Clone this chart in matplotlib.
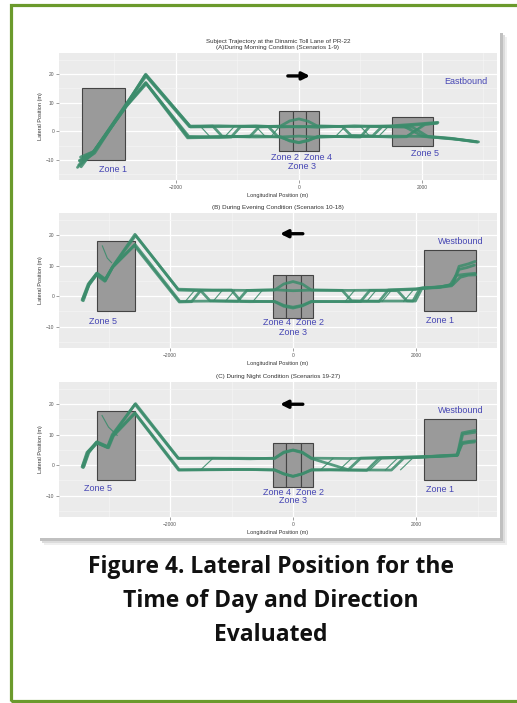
import matplotlib
matplotlib.use("Agg")
import matplotlib.pyplot as plt
from matplotlib.patches import Rectangle
from matplotlib.ticker import MultipleLocator

W, H = 517, 703

# ---- data ----
x_ticks = [-2000, 0, 2000]
y_ticks = [-10, 0, 10, 20]

titles = ["Subject Trajectory at the Dinamic Toll Lane of PR-22\n(A)During Morning Condition (Scenarios 1-9)",
          "(B) During Evening Condition (Scenarios 10-18)",
          "(C) During Night Condition (Scenarios 19-27)"]
directions = ["Eastbound", "Westbound", "Westbound"]

# zone boxes: x0, x1, y0, y1
morning_boxes = [(-3530, -2830, -10, 15), (-320, -100, -7, 7), (-100, 110, -7, 7),
                 (110, 330, -7, 7), (1510, 2180, -5, 5)]
evening_boxes = [(-3190, -2570, -5, 18), (-325, -114, -7, 7), (-114, 130, -7, 7),
                 (130, 325, -7, 7), (2130, 2975, -5, 15)]
night_boxes = [(-3190, -2570, -4.8, 17.8), (-325, -114, -7.3, 7.3), (-114, 130, -7.3, 7.3),
               (130, 325, -7.3, 7.3), (2130, 2975, -5, 15)]

# zone labels: text, x, y
morning_labels = [("Zone 1", -3020, -13.4), ("Zone 2  Zone 4", 50, -9.0), ("Zone 3", 50, -12.4),
                  ("Zone 5", 2050, -7.9)]
evening_labels = [("Zone 5", -3090, -8.3), ("Zone 4  Zone 2", 0, -8.6), ("Zone 3", 0, -11.9),
                  ("Zone 1", 2390, -7.9)]
night_labels = [("Zone 5", -3170, -7.8), ("Zone 4  Zone 2", 0, -8.8), ("Zone 3", 0, -11.7),
                ("Zone 1", 2390, -8.1)]

# trajectories (longitudinal x, lateral y)
morning_paths = [
    ([-3580, -3470, -3350, -2800, -2490, -1770, -1300, -700, -300, -150, 0, 150, 300, 900, 1500, 1900, 2260],
     [-11.8, -9.5, -7.6, 9.4, 19.9, 1.8, 1.9, 1.6, 1.8, 3.6, 4.3, 3.5, 1.8, 1.6, 1.9, 2.5, 3.1]),
    ([-3560, -3450, -3340, -2800, -2480, -1760, -1300, -700, -300, 0, 300, 900, 1500, 1900, 2250],
     [-10.5, -8.4, -7.2, 9.8, 19.4, 1.5, 1.6, 1.9, 1.5, 1.7, 1.4, 1.9, 1.6, 2.2, 2.8]),
    ([-3570, -3460, -3350, -2800, -2490, -1800, -1300, -700, -300, -150, 0, 150, 300, 900, 1500, 2000, 2500, 2900],
     [-10.2, -8.8, -7.4, 9.1, 17.0, -2.1, -1.8, -2.0, -1.9, -3.4, -4.0, -3.3, -1.8, -1.9, -1.7, -1.8, -2.6, -3.8]),
    ([-3550, -3440, -3330, -2800, -2480, -1790, -1300, -700, -300, 0, 300, 900, 1500, 1750, 2050, 2240],
     [-9.0, -8.0, -7.0, 8.8, 16.6, -1.8, -2.1, -1.6, -2.0, -1.7, -2.1, -1.6, -2.0, -1.9, 2.4, 2.9]),
    ([-3540, -3430, -3320, -2800, -2500, -1780, -1400, -1250, -800, -650, -300, 0, 300, 700, 850, 1200, 1350, 1700, 2000, 2450, 2880],
     [-12.4, -9.2, -7.6, 9.6, 19.6, 1.6, 1.8, -1.7, -1.9, 1.5, 1.7, 1.5, 1.8, 1.7, -1.5, -1.6, 1.6, 1.8, -1.6, -2.4, -3.6]),
    ([-3600, -3500, -3360, -2800, -2490, -1810, -1100, -950, -500, -350, -150, 0, 150, 350, 1000, 1150, 1600, 1850, 2100, 2600, 2920],
     [-12.6, -10.6, -8.0, 9.0, 16.8, -2.3, -2.0, 1.6, 1.7, -1.7, -3.2, -3.9, -3.1, -1.7, -2.0, 1.7, 1.5, 1.4, -1.9, -2.9, -3.7]),
]
morning_thin = [([-1600, -1450], [1.7, -1.8]), ([-1200, -1050], [-1.8, 1.7]), ([-700, -550], [1.7, -1.8]),
                ([-450, -320], [-1.8, 1.6]), ([600, 750], [-1.7, 1.6]), ([1000, 1150], [1.7, -1.7]),
                ([1300, 1450], [-1.7, 1.6]), ([1750, 2000], [-1.6, 1.8])]

evening_paths = [
    ([-3430, -3330, -3190, -3060, -2930, -2570, -1870, -1300, -700, -300, -150, 0, 150, 300, 900, 1500, 2065, 2400, 2600, 2700, 2850, 2960],
     [-1.3, 4.0, 7.5, 5.3, 9.8, 20.3, 2.3, 2.0, 1.9, 2.0, 4.0, 4.8, 4.0, 2.0, 1.9, 2.0, 2.5, 3.0, 4.0, 9.8, 10.6, 11.4]),
    ([-3420, -3320, -3180, -3050, -2930, -2570, -1840, -1300, -700, -300, -150, 0, 150, 300, 900, 1500, 1950, 2065, 2300, 2550, 2650, 2800, 2960],
     [-1.0, 3.8, 7.3, 5.1, 9.6, 17.0, -1.7, -1.6, -1.8, -1.7, -3.0, -3.6, -3.0, -1.7, -1.8, -1.6, -1.6, 2.6, 2.9, 3.5, 6.8, 7.2, 7.5]),
    ([-3400, -3310, -3190, -3050, -2920, -2560, -1860, -1500, -1350, -900, -750, -300, 0, 300, 800, 950, 1400, 1550, 2000, 2070, 2350, 2580, 2700, 2830, 2950],
     [-0.5, 4.3, 7.6, 5.6, 10.0, 19.9, 2.0, 1.8, -1.5, -1.6, 1.9, 2.1, 1.8, 2.0, 1.9, -1.5, -1.7, 2.0, 2.2, 2.6, 2.8, 3.4, 8.8, 9.4, 10.2]),
    ([-3410, -3320, -3200, -3060, -2940, -2580, -1850, -1650, -1500, -1000, -850, -300, -150, 0, 150, 300, 1100, 1250, 1700, 1850, 1990, 2100, 2400, 2600, 2720, 2850, 2970],
     [-1.5, 3.5, 7.0, 4.9, 9.4, 16.6, -1.9, -1.8, 1.9, 2.0, -1.6, -1.8, -3.3, -3.9, -3.2, -1.8, -1.7, 1.9, 1.8, -1.5, -1.6, 2.7, 3.1, 3.8, 6.2, 6.9, 7.0]),
]
evening_thin = [([-3100, -3020, -2950], [16.5, 12.5, 11.0]),
                ([-1750, -1600], [-1.7, 1.9]), ([-1300, -1150], [-1.7, 1.9]), ([-1100, -950], [-1.7, 1.9]),
                ([-650, -500], [-1.7, 1.9]), ([850, 1000], [-1.7, 1.9]), ([1200, 1350], [-1.7, 1.9]),
                ([1450, 1600], [-1.7, 1.9]), ([1800, 1950], [-1.7, 1.9])]

night_paths = [
    ([-3430, -3350, -3190, -3010, -2930, -2570, -1870, -1300, -700, -300, -150, 0, 150, 300, 900, 1500, 2065, 2400, 2670, 2750, 2850, 2960],
     [-0.6, 4.2, 7.5, 5.9, 9.8, 20.0, 2.3, 2.3, 2.1, 2.3, 4.3, 5.0, 4.3, 2.3, 2.2, 2.4, 2.7, 3.0, 3.3, 10.6, 11.0, 11.4]),
    ([-3420, -3340, -3180, -3000, -2920, -2570, -1860, -1300, -700, -300, -150, 0, 150, 300, 600, 1200, 1400, 2065, 2400, 2670, 2760, 2860, 2960],
     [-0.3, 4.0, 7.3, 5.7, 9.6, 17.0, -1.6, -1.5, -1.4, -1.6, -2.8, -3.7, -2.8, -1.6, -1.5, -1.7, 2.3, 2.6, 2.9, 3.2, 7.5, 7.8, 8.0]),
    ([-3410, -3330, -3190, -3010, -2930, -2570, -1850, -1000, -300, -150, 0, 150, 300, 1600, 1800, 2065, 2400, 2680, 2760, 2860, 2960],
     [-0.8, 4.4, 7.7, 6.1, 9.7, 17.2, -1.5, -1.4, -1.5, -2.9, -3.6, -2.9, -1.5, -1.6, 2.3, 2.6, 3.1, 3.4, 10.2, 10.5, 10.8]),
    ([-3400, -3320, -3200, -3020, -2940, -2560, -1860, -1000, -300, -150, 0, 150, 300, 900, 1100, 2065, 2400, 2660, 2740, 2850, 2950],
     [-0.4, 4.1, 7.4, 5.8, 10.0, 20.2, 2.2, 2.3, 2.2, 4.1, 4.9, 4.1, 2.2, -1.5, 2.3, 2.8, 3.0, 3.2, 7.0, 7.4, 7.6]),
]
night_thin = [([-3105, -3000, -2860], [16.3, 12.5, 9.8]),
              ([-1500, -1300], [-1.5, 2.3]), ([450, 650], [-1.5, 2.2]), ([750, 950], [-1.6, 2.2]),
              ([1250, 1450], [-1.6, 2.3]), ([1500, 1700], [-1.6, 2.3]), ([1750, 1950], [-1.5, 2.4])]

arrows = [(-180, 180, 19.3), (160, -210, 20.5), (160, -210, 20.0)]   # x_from, x_to, y

# panel placement in pixels: top, bottom ; x range
panel_px = [(53, 180), (213, 348), (382, 517)]
xlims = [(-3900, 3220), (-3805, 3317), (-3805, 3317)]

GREEN = "#3c8c6c"
ZONE_BLUE = "#4646b4"


def px(x, y):
    return x / W, 1 - y / H


fig = plt.figure(figsize=(W / 100, H / 100), dpi=100)

# outer green frame
fig.patches.append(Rectangle(px(10.5, 700.5), (530 - 10.5) / W, (700.5 - 4.5) / H,
                             transform=fig.transFigure, fill=False, ec="#6b9a2c", lw=2.3, zorder=-5))
# screenshot shadow + white card
for off, c in [(7, "#efefef"), (5, "#dcdcdc"), (3, "#c0c0c0")]:
    fig.patches.append(Rectangle(px(37 + off, 538 + off), 463 / W, 508 / H,
                                 transform=fig.transFigure, fc=c, ec="none", zorder=-5))
fig.patches.append(Rectangle(px(37, 538), 463 / W, 508 / H,
                             transform=fig.transFigure, fc="white", ec="none", zorder=-4))

panels = [(morning_boxes, morning_labels, morning_paths, morning_thin),
          (evening_boxes, evening_labels, evening_paths, evening_thin),
          (night_boxes, night_labels, night_paths, night_thin)]

for i, (boxes, labels, paths, thin) in enumerate(panels):
    top, bot = panel_px[i]
    l, b = px(59, bot)
    ax = fig.add_axes([l, b, (497 - 59) / W, (bot - top) / H])
    ax.set_zorder(2)
    ax.set_facecolor("#ebebeb")
    for s in ax.spines.values():
        s.set_visible(False)
    ax.set_xlim(*xlims[i])
    ax.set_ylim(-17, 27.3)
    ax.set_xticks(x_ticks)
    ax.set_yticks(y_ticks)
    ax.xaxis.set_minor_locator(MultipleLocator(1000))
    ax.yaxis.set_minor_locator(MultipleLocator(5))
    ax.grid(which="major", color="white", lw=0.9)
    ax.grid(which="minor", color="#f6f6f6", lw=0.45)
    ax.set_axisbelow(True)
    ax.tick_params(which="major", length=2, width=0.5, color="#777777", labelsize=3.5,
                   labelcolor="#555555", pad=1.5)
    ax.tick_params(which="minor", length=0)
    for t in ax.get_xticklabels() + ax.get_yticklabels():
        t.set_family("Liberation Sans")

    for x0, x1, y0, y1 in boxes:
        ax.add_patch(Rectangle((x0, y0), x1 - x0, y1 - y0, fc="#9a9a9a", ec="#444444", lw=0.8, zorder=2))

    for xs, ys in thin:
        ax.plot(xs, ys, color=GREEN, lw=0.8, alpha=0.9, zorder=3)
    for xs, ys in paths:
        ax.plot(xs, ys, color=GREEN, lw=2.0, alpha=0.85, solid_capstyle="round", zorder=3)

    for txt, x, y in labels:
        ax.text(x, y, txt, ha="center", va="center", fontsize=6.5, color=ZONE_BLUE,
                family="Liberation Sans", zorder=4)
    ax.text(2720, 17.4 if i == 0 else 17.9, directions[i], ha="center", va="center", fontsize=6.5,
            color=ZONE_BLUE, family="Liberation Sans", zorder=4)

    xa, xb, ya = arrows[i]
    ax.annotate("", xy=(xb, ya), xytext=(xa, ya),
                arrowprops=dict(arrowstyle="-|>", color="black", lw=2.4, mutation_scale=11,
                                shrinkA=0, shrinkB=0), zorder=5)

    ax.set_title(titles[i], fontsize=4.5, color="#333333", family="Liberation Sans", pad=3,
                 linespacing=1.1)
    ax.set_xlabel("Longitudinal Position (m)", fontsize=4, color="#333333",
                  family="Liberation Sans", labelpad=2)
    ax.set_ylabel("Lateral Position (m)", fontsize=4, color="#333333",
                  family="Liberation Sans", labelpad=2)

caption = ["Figure 4. Lateral Position for the", "Time of Day and Direction", "Evaluated"]
for k, line in enumerate(caption):
    fig.text(271 / W, 1 - (567 + 34 * k) / H, line, ha="center", va="center",
             fontsize=16.5, fontweight="bold", family="Open Sans", color="#111111")

fig.savefig("out.png", dpi=100)
